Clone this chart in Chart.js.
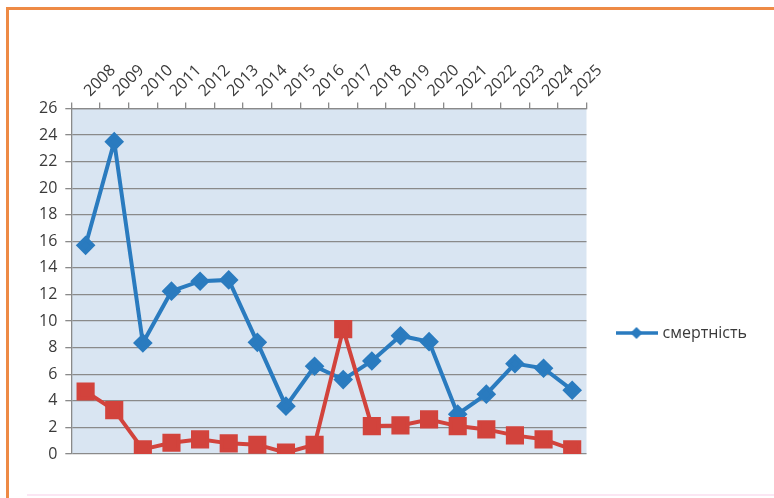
<!DOCTYPE html>
<html><head><meta charset="utf-8">
<script src="https://cdn.jsdelivr.net/npm/chart.js@4"></script>
<style>
html,body{margin:0;padding:0;background:#fff;width:774px;height:498px;overflow:hidden}
#wrap{position:absolute;left:0;top:0;width:774px;height:498px}
#frame{position:absolute;left:6px;top:7px;width:900px;height:600px;border-left:3px solid #ee8a45;border-top:3px solid #ee8a45;pointer-events:none}
#pink{position:absolute;left:27px;top:494px;width:760px;height:2px;background:#fbe6f3}
</style></head><body>
<div id="wrap"><canvas id="c"></canvas></div>
<div id="frame"></div><div id="pink"></div>
<script>
const years = ['2008','2009','2010','2011','2012','2013','2014','2015','2016','2017','2018','2019','2020','2021','2022','2023','2024','2025'];
const mortality = [15.7,23.5,8.35,12.25,13.0,13.1,8.4,3.6,6.6,5.6,7.0,8.9,8.45,3.0,4.5,6.8,6.45,4.8];
const secondSeries = [4.7,3.3,0.35,0.85,1.1,0.8,0.7,0.1,0.7,9.4,2.1,2.15,2.6,2.1,1.85,1.4,1.1,0.35];
const seriesNames = ['смертність',''];
const yMin = 0, yMax = 26, yStep = 2;

const BLUE = '#2a7bbf', RED = '#d2433c', GRID = '#8a8a8a', TXT = '#3a3a3a';
const FONT = {family:'"Open Sans", sans-serif', size:16};

// legend marker: line with diamond
const mk = document.createElement('canvas');
mk.width = 42; mk.height = 16;
(function(){
  const g = mk.getContext('2d');
  g.strokeStyle = BLUE; g.lineWidth = 3.5;
  g.beginPath(); g.moveTo(0,8); g.lineTo(42,8); g.stroke();
  g.fillStyle = BLUE; g.beginPath();
  g.moveTo(21,2); g.lineTo(27,8); g.lineTo(21,14); g.lineTo(15,8); g.closePath(); g.fill();
})();

const plotBg = {id:'plotBg', beforeDraw(chart){
  const {ctx, chartArea:a} = chart;
  ctx.save(); ctx.fillStyle = '#d9e5f2';
  ctx.fillRect(a.left, a.top, a.right-a.left, a.bottom-a.top); ctx.restore();
}};
const legendPos = {id:'legendPos', afterLayout(chart){
  const l = chart.legend; if(!l) return;
  const h = l.bottom - l.top;
  l.top = 333 - h/2; l.bottom = l.top + h;
}};

new Chart(document.getElementById('c'), {
  type:'line',
  data:{labels:years, datasets:[
    {label:seriesNames[0], data:mortality, borderColor:BLUE, backgroundColor:BLUE, borderWidth:4,
     pointStyle:'rectRot', pointRadius:7, pointHoverRadius:7, pointBackgroundColor:BLUE, pointBorderColor:BLUE, tension:0, order:1},
    {label:seriesNames[1], data:secondSeries, borderColor:RED, backgroundColor:RED, borderWidth:4,
     pointStyle:'rect', pointRadius:10, pointHoverRadius:10, pointBackgroundColor:RED, pointBorderColor:RED, tension:0, order:0}
  ]},
  options:{
    responsive:true, maintainAspectRatio:false, animation:false,
    layout:{padding:{left:31, top:59, right:17, bottom:44}},
    plugins:{
      tooltip:{enabled:false},
      legend:{position:'right', align:'center',
        labels:{usePointStyle:true, pointStyle:mk, pointStyleWidth:36, padding:32, color:TXT, font:FONT,
          filter:(item)=>item.datasetIndex===0}}
    },
    scales:{
      x:{position:'top', offset:true,
        grid:{offset:true, drawOnChartArea:false, drawTicks:true, tickLength:6, color:GRID, lineWidth:1.3},
        border:{display:true, color:GRID, width:1.3},
        ticks:{minRotation:45, maxRotation:45, autoSkip:false, color:TXT, font:FONT, padding:2, labelOffset:15}},
      y:{min:yMin, max:yMax,
        grid:{color:GRID, lineWidth:1.3, tickLength:6},
        border:{display:true, color:GRID, width:1.3},
        ticks:{stepSize:yStep, color:TXT, font:FONT, padding:8}}
    }
  },
  plugins:[plotBg, legendPos]
});
</script>
</body></html>
